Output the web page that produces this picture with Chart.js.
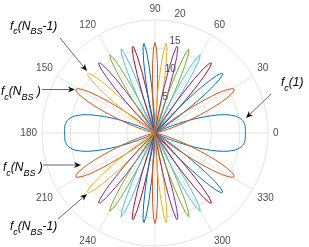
<!DOCTYPE html>
<html>
<head>
<meta charset="utf-8">
<script src="https://cdn.jsdelivr.net/npm/chart.js"></script>
<style>
  html, body { margin: 0; padding: 0; background: #fff; overflow: hidden; }
  #wrap { width: 309px; height: 247px; overflow: hidden; position: relative; }
  canvas { display: block; }
</style>
</head>
<body>
<div id="wrap"><canvas id="beamChart" width="309" height="263"></canvas></div>
<script>
// polar axis ticks
const angleTicks = [0, 30, 60, 90, 120, 150, 180, 210, 240, 270, 300, 330];
const radialTicks = [5, 10, 15, 20];
const radialMax = 20;

// beam gain, 1 degree steps over the upper half-plane
// (every pattern is mirrored about the 0-180 axis)
const beamStart = [0, 140, 130, 121, 113, 105, 98, 91, 84, 76, 69, 61, 52, 42, 30, 7];
const beam1 = [16.0, 16.0, 16.0, 16.0, 16.0, 16.0, 15.9, 15.8, 15.7, 15.5, 15.2, 14.9, 14.5, 13.9, 13.3, 12.5, 11.6, 10.5, 9.4, 8.2, 7.0, 5.7, 4.5, 3.3, 2.3, 1.5, 0.8, 0.3, 0.1];
const beam1BackStart = 152;
const beam1Back = [0.1, 0.3, 0.8, 1.5, 2.3, 3.3, 4.5, 5.7, 7.0, 8.2, 9.4, 10.5, 11.6, 12.5, 13.3, 13.9, 14.5, 14.9, 15.2, 15.5, 15.7, 15.8, 15.9, 16.0, 16.0, 16.0, 16.0, 16.0, 16.0];
const beam2 = [0.3, 1.1, 2.3, 3.9, 5.8, 7.9, 10.0, 12.0, 13.7, 14.9, 15.7, 16.0, 15.8, 15.2, 14.2, 13.0, 11.6, 10.1, 8.7, 7.3, 6.1, 4.9, 3.9, 3.1, 2.3, 1.8, 1.3, 0.9, 0.7, 0.5, 0.3, 0.2, 0.1, 0.1];
const beam3 = [0.4, 1.4, 3.1, 5.4, 8.0, 10.7, 13.1, 14.9, 15.8, 15.9, 15.1, 13.7, 11.7, 9.5, 7.2, 5.2, 3.4, 2.0, 1.1, 0.4, 0.1];
const beam4 = [0.3, 1.3, 3.2, 5.8, 8.9, 11.9, 14.3, 15.7, 15.9, 15.0, 13.0, 10.4, 7.6, 5.1, 2.9, 1.4, 0.5, 0.1];
const beam5 = [0.3, 1.5, 3.6, 6.7, 10.0, 13.1, 15.2, 16.0, 15.3, 13.2, 10.3, 7.2, 4.4, 2.2, 0.8, 0.1];
const beam6 = [0.1, 0.9, 2.9, 5.8, 9.3, 12.6, 15.1, 16.0, 15.2, 12.9, 9.7, 6.3, 3.4, 1.4, 0.3];
const beam7 = [0.3, 1.5, 3.9, 7.2, 10.9, 14.0, 15.8, 15.7, 13.9, 10.8, 7.2, 4.0, 1.6, 0.4];
const beam8 = [0.4, 1.9, 4.5, 8.0, 11.7, 14.6, 16.0, 15.3, 12.9, 9.5, 5.8, 2.8, 0.9, 0.1];
const beam9 = [0.6, 2.2, 5.0, 8.7, 12.3, 15.0, 16.0, 15.0, 12.3, 8.7, 5.0, 2.2, 0.6];
const beam10 = [0.1, 0.9, 2.8, 5.8, 9.5, 12.9, 15.3, 16.0, 14.6, 11.7, 8.0, 4.5, 1.9, 0.4];
const beam11 = [0.4, 1.6, 4.0, 7.2, 10.8, 13.9, 15.7, 15.8, 14.0, 10.9, 7.2, 3.9, 1.5, 0.3];
const beam12 = [0.3, 1.4, 3.4, 6.3, 9.7, 12.9, 15.2, 16.0, 15.1, 12.6, 9.3, 5.8, 2.9, 0.9, 0.1];
const beam13 = [0.1, 0.8, 2.2, 4.4, 7.2, 10.3, 13.2, 15.3, 16.0, 15.2, 13.1, 10.0, 6.7, 3.6, 1.5, 0.3];
const beam14 = [0.1, 0.5, 1.4, 2.9, 5.1, 7.6, 10.4, 13.0, 15.0, 15.9, 15.7, 14.3, 11.9, 8.9, 5.8, 3.2, 1.3, 0.3];
const beam15 = [0.1, 0.4, 1.1, 2.0, 3.4, 5.2, 7.2, 9.5, 11.7, 13.7, 15.1, 15.9, 15.8, 14.9, 13.1, 10.7, 8.0, 5.4, 3.1, 1.4, 0.4];
const beam16 = [0.1, 0.1, 0.2, 0.3, 0.5, 0.7, 0.9, 1.3, 1.8, 2.3, 3.1, 3.9, 4.9, 6.1, 7.3, 8.7, 10.1, 11.6, 13.0, 14.2, 15.2, 15.8, 16.0, 15.7, 14.9, 13.7, 12.0, 10.0, 7.9, 5.8, 3.9, 2.3, 1.1, 0.3];
const beamGains = [beam1, beam2, beam3, beam4, beam5, beam6, beam7, beam8, beam9, beam10, beam11, beam12, beam13, beam14, beam15, beam16];

const lineColors = ['#0072BD', '#D95319', '#EDB120', '#7E2F8E', '#77AC30', '#4DBEEE', '#A2142F'];

// one radar spoke per degree, first spoke at the top (90 deg), going clockwise
const angleCount = 360;
const angleLabels = [];
for (let i = 0; i < angleCount; i++) angleLabels.push((90 - i + 360) % 360);
const indexOfAngle = a => (90 - a + 720) % 360;

function patternData(start, values, back) {
  const data = new Array(angleCount).fill(0);
  const put = (s, vals) => vals.forEach((v, j) => {
    data[indexOfAngle(s + j)] = v;
    data[indexOfAngle(360 - (s + j))] = v;
  });
  put(start, values);
  if (back) put(back.start, back.values);
  return data;
}

const datasets = beamGains.map((vals, k) => ({
  label: 'beam ' + (k + 1),
  data: patternData(beamStart[k], vals, k === 0 ? { start: beam1BackStart, values: beam1Back } : null),
  borderColor: lineColors[k % lineColors.length],
  backgroundColor: 'transparent',
  borderWidth: 1,
  fill: false,
  pointRadius: 0,
  pointHitRadius: 0,
  borderJoinStyle: 'round',
  order: beamGains.length - k   // later beams drawn on top
}));

// r tick labels sit next to the 80 deg spoke
const rTickLabels = {
  id: 'rTickLabels',
  afterDatasetsDraw(chart) {
    const r = chart.scales.r;
    const ctx = chart.ctx;
    const idx = indexOfAngle(80);
    ctx.save();
    ctx.font = '10px "Liberation Sans", Arial, sans-serif';
    ctx.fillStyle = '#4d4d4d';
    ctx.textAlign = 'center';
    ctx.textBaseline = 'middle';
    radialTicks.forEach(v => {
      const p = r.getPointPosition(idx, r.getDistanceFromCenterForValue(v) + 8);
      ctx.fillText(String(v), p.x + 4, p.y);
    });
    ctx.restore();
  }
};

// text callouts with arrows
const callouts = [
  { parts: [['f', 0], ['c', 1], ['(1)', 0]], x: 281, y: 86, from: [271, 94], to: [246, 118] },
  { parts: [['f', 0], ['c', 1], ['(N', 0], ['BS', 1], ['-1)', 0]], x: 10, y: 29.5, from: [60, 38], to: [87, 71] },
  { parts: [['f', 0], ['c', 1], ['(N', 0], ['BS', 1], [' )', 0]], x: 1, y: 95, from: [42, 89.5], to: [75, 89.5] },
  { parts: [['f', 0], ['c', 1], ['(N', 0], ['BS', 1], [' )', 0]], x: 3, y: 171, from: [43, 165], to: [81, 165] },
  { parts: [['f', 0], ['c', 1], ['(N', 0], ['BS', 1], ['-1)', 0]], x: 10, y: 230, from: [58, 219], to: [87, 194] }
];

function drawArrow(ctx, x1, y1, x2, y2) {
  const ang = Math.atan2(y2 - y1, x2 - x1);
  const c = Math.cos(ang), s = Math.sin(ang);
  const len = 7, half = 3, notch = 2;
  const bx = x2 - c * len, by = y2 - s * len;
  ctx.strokeStyle = '#555';
  ctx.lineWidth = 0.9;
  ctx.beginPath();
  ctx.moveTo(x1, y1);
  ctx.lineTo(x2 - c * (len - notch), y2 - s * (len - notch));
  ctx.stroke();
  ctx.fillStyle = '#111';
  ctx.beginPath();
  ctx.moveTo(x2, y2);
  ctx.lineTo(bx - s * half, by + c * half);
  ctx.lineTo(x2 - c * (len - notch), y2 - s * (len - notch));
  ctx.lineTo(bx + s * half, by - c * half);
  ctx.closePath();
  ctx.fill();
}

const calloutPlugin = {
  id: 'callouts',
  afterDraw(chart) {
    const ctx = chart.ctx;
    ctx.save();
    ctx.textBaseline = 'alphabetic';
    ctx.textAlign = 'left';
    callouts.forEach(c => {
      drawArrow(ctx, c.from[0], c.from[1], c.to[0], c.to[1]);
      let x = c.x;
      ctx.fillStyle = '#000';
      c.parts.forEach(([t, sub]) => {
        ctx.font = sub ? 'italic 9px "Liberation Sans", Arial, sans-serif' : 'italic 12px "Liberation Sans", Arial, sans-serif';
        ctx.fillText(t, x, sub ? c.y + 4.5 : c.y);
        x += ctx.measureText(t).width;
      });
    });
    ctx.restore();
  }
};

new Chart(document.getElementById('beamChart').getContext('2d'), {
  type: 'radar',
  data: { labels: angleLabels, datasets: datasets },
  options: {
    responsive: false,
    animation: false,
    devicePixelRatio: 1,
    layout: { padding: { left: 1, top: 3, right: 0, bottom: 0 } },
    plugins: { legend: { display: false }, tooltip: { enabled: false } },
    scales: {
      r: {
        min: 0,
        max: radialMax,
        startAngle: 0,
        ticks: { display: false, stepSize: 5 },
        grid: { circular: true, color: '#e3e3e3', lineWidth: 1 },
        angleLines: {
          display: true,
          color: '#e3e3e3',
          lineWidth: ctx => angleTicks.includes(angleLabels[ctx.index]) ? 1 : 0
        },
        pointLabels: {
          display: true,
          padding: 5,
          color: '#4d4d4d',
          font: { family: '"Liberation Sans", Arial, sans-serif', size: 10 },
          callback: label => angleTicks.includes(label) ? String(label) : ''
        }
      }
    }
  },
  plugins: [rTickLabels, calloutPlugin]
});
</script>
</body>
</html>
